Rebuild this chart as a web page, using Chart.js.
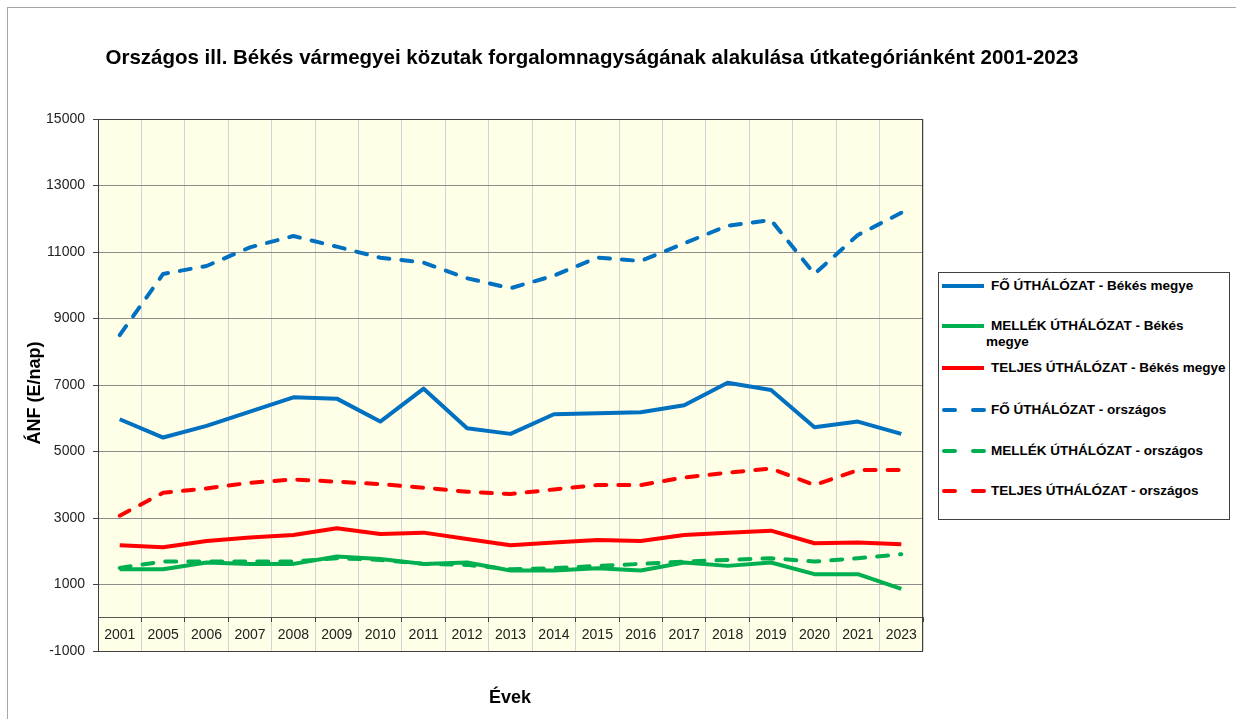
<!DOCTYPE html>
<html>
<head>
<meta charset="utf-8">
<script src="https://cdn.jsdelivr.net/npm/chart.js@4.4.1/dist/chart.umd.min.js"></script>
<style>
  html, body { margin: 0; padding: 0; background: #fff; }
  #wrap { position: relative; width: 1236px; height: 719px; overflow: hidden; font-family: "Liberation Sans", Arial, sans-serif; }
  #frame { position: absolute; left: 7px; top: 7px; width: 1240px; height: 720px; border-left: 1px solid #a6a6a6; border-top: 1px solid #a6a6a6; }
  #title { position: absolute; left: 0; width: 1184px; top: 45px; text-align: center; font-weight: bold; font-size: 20.5px; color: #000; }
  #xtitle { position: absolute; left: 460px; width: 100px; top: 687px; text-align: center; font-weight: bold; font-size: 18px; color: #000; }
  #ytitle { position: absolute; left: -66px; top: 382px; width: 200px; text-align: center; font-weight: bold; font-size: 18px; line-height: 22px; color: #000; transform: rotate(-90deg); }
  #legend { position: absolute; left: 938px; top: 272px; width: 290px; height: 246px; border: 1px solid #404040; background: #fff; }
  .item { position: absolute; left: 3px; font-weight: bold; font-size: 13.5px; color: #000; white-space: nowrap; }
  .item svg { position: absolute; left: 0; top: 0; }
  .item span { position: absolute; left: 49px; top: -8px; }
  canvas { position: absolute; left: 0; top: 0; }
</style>
</head>
<body>
<div id="wrap">
  <div id="frame"></div>
  <canvas id="chart" width="1236" height="719"></canvas>
  <div id="title">Országos ill. Békés vármegyei közutak forgalomnagyságának alakulása útkategóriánként 2001-2023</div>
  <div id="ytitle">ÁNF (E/nap)</div>
  <div id="xtitle">Évek</div>
  <div id="legend"></div>
</div>
<script>
const years = ["2001", "2005", "2006", "2007", "2008", "2009", "2010", "2011", "2012", "2013", "2014", "2015", "2016", "2017", "2018", "2019", "2020", "2021", "2023"];

const foBekes = [5970, 5420, 5770, 6200, 6630, 6590, 5900, 6890, 5700, 5530, 6120, 6150, 6180, 6390, 7070, 6850, 5730, 5900, 5530];
const mellekBekes = [1460, 1460, 1660, 1620, 1620, 1840, 1770, 1620, 1660, 1420, 1420, 1490, 1420, 1660, 1560, 1660, 1310, 1310, 870];
const teljesBekes = [2180, 2120, 2310, 2410, 2490, 2690, 2520, 2560, 2370, 2180, 2260, 2340, 2310, 2490, 2560, 2620, 2240, 2260, 2210];
const foOrszagos = [8500, 10340, 10580, 11140, 11480, 11160, 10830, 10680, 10210, 9910, 10290, 10830, 10730, 11260, 11790, 11960, 10340, 11510, 12180];
const mellekOrszagos = [1500, 1690, 1690, 1690, 1690, 1790, 1740, 1620, 1590, 1460, 1490, 1560, 1620, 1690, 1740, 1790, 1690, 1790, 1910];
const teljesOrszagos = [3070, 3760, 3890, 4060, 4160, 4090, 4020, 3910, 3790, 3720, 3860, 3990, 3990, 4220, 4360, 4490, 3990, 4440, 4440];

const BLUE = "#0070c0", GREEN = "#00b050", RED = "#ff0000";
const DASH = [11, 12];

const series = [
  { label: "FŐ ÚTHÁLÓZAT - Békés megye", data: foBekes, color: BLUE, dash: false, lines: ["FŐ ÚTHÁLÓZAT - Békés megye"] },
  { label: "MELLÉK ÚTHÁLÓZAT - Békés megye", data: mellekBekes, color: GREEN, dash: false, lines: [" MELLÉK ÚTHÁLÓZAT - Békés", "megye"] },
  { label: "TELJES ÚTHÁLÓZAT - Békés megye", data: teljesBekes, color: RED, dash: false, lines: ["TELJES ÚTHÁLÓZAT - Békés megye"] },
  { label: "FŐ ÚTHÁLÓZAT - országos", data: foOrszagos, color: BLUE, dash: true, lines: ["FŐ ÚTHÁLÓZAT - országos"] },
  { label: "MELLÉK ÚTHÁLÓZAT - országos", data: mellekOrszagos, color: GREEN, dash: true, lines: ["MELLÉK ÚTHÁLÓZAT - országos"] },
  { label: "TELJES ÚTHÁLÓZAT - országos", data: teljesOrszagos, color: RED, dash: true, lines: ["TELJES ÚTHÁLÓZAT - országos"] },
];

// plot area background + border
const plotFrame = {
  id: "plotFrame",
  beforeDraw(chart) {
    const { ctx, chartArea: a } = chart;
    ctx.save();
    ctx.fillStyle = "#fffee6";
    ctx.fillRect(a.left, a.top, a.right - a.left, a.bottom - a.top);
    ctx.restore();
  },
  beforeDatasetsDraw(chart) {
    const { ctx, chartArea: a } = chart;
    ctx.save();
    ctx.strokeStyle = "#404040";
    ctx.lineWidth = 1;
    ctx.strokeRect(a.left + 0.5, a.top + 0.5, a.right - a.left - 1, a.bottom - a.top);
    ctx.restore();
  },
};

new Chart(document.getElementById("chart"), {
  type: "line",
  data: {
    labels: years,
    datasets: series.map((s) => ({
      label: s.label,
      data: s.data,
      borderColor: s.color,
      backgroundColor: s.color,
      borderWidth: 4,
      borderDash: s.dash ? DASH : [],
      borderCapStyle: s.dash ? "round" : "butt",
      borderJoinStyle: "round",
      pointRadius: 0,
      tension: 0,
      fill: false,
    })),
  },
  options: {
    responsive: false,
    animation: false,
    layout: { padding: { left: 0, top: 119, right: 313, bottom: 68 } },
    plugins: {
      legend: { display: false },
      title: { display: false },
      tooltip: { enabled: false },
    },
    scales: {
      x: {
        type: "category",
        position: { y: 0 },
        offset: true,
        grid: { offset: true, color: "#d4d4d4", lineWidth: 1, drawTicks: true, tickLength: 4, tickColor: "#404040" },
        border: { display: true, color: "#555", width: 1 },
        ticks: { color: "#222", font: { family: "Liberation Sans, Arial", size: 14 }, padding: 5, maxRotation: 0, autoSkip: false },
      },
      y: {
        min: -1000,
        max: 15000,
        afterFit(scale) { scale.width = 98; },
        grid: { color: "#8c8c8c", lineWidth: 1, tickLength: 5, tickColor: "#404040" },
        border: { display: true, color: "#404040", width: 1 },
        ticks: { stepSize: 2000, color: "#222", font: { family: "Liberation Sans, Arial", size: 14 }, padding: 8, callback: (v) => String(v) },
      },
    },
  },
  plugins: [plotFrame],
});

// legend
const legendEl = document.getElementById("legend");
const itemTops = [13, 53, 95, 137, 178, 218];
legendEl.innerHTML = series.map((s, i) => {
  const dashAttr = s.dash ? ' stroke-dasharray="11 18" stroke-linecap="round"' : "";
  const x1 = s.dash ? 2 : 0;
  const text = s.lines.length > 1
    ? `<span>${s.lines[0]}</span><span style="left:44px;top:8px">${s.lines[1]}</span>`
    : `<span>${s.lines[0]}</span>`;
  return `<div class="item" style="top:${itemTops[i]}px">
    <svg width="44" height="6" style="top:-3px"><line x1="${x1}" y1="3" x2="42" y2="3" stroke="${s.color}" stroke-width="4"${dashAttr}/></svg>
    ${text}
  </div>`;
}).join("");
</script>
</body>
</html>
